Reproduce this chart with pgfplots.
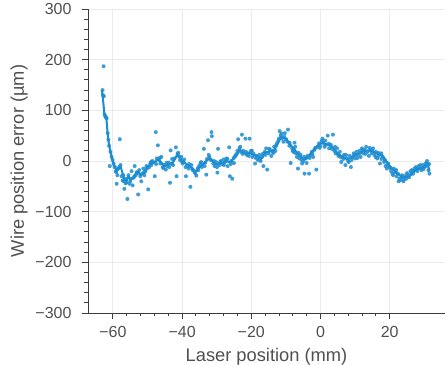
\documentclass[border=0pt]{standalone}
\usepackage{pgfplots}
\pgfplotsset{compat=1.18}
\usepackage{fontspec}
\setmainfont{Liberation Sans}
\definecolor{dotblue}{RGB}{28,140,208}
\definecolor{txtgray}{RGB}{80,80,80}
\definecolor{spinegray}{RGB}{60,60,60}
\definecolor{gridgray}{RGB}{235,235,235}
\begin{document}
\begin{tikzpicture}
\begin{axis}[
  scale only axis,
  width=357pt, height=304pt,
  xmin=-67.2, xmax=36.0, ymin=-300, ymax=300,
  axis x line*=bottom, axis y line*=left,
  axis line style={-, spinegray, line width=0.9pt},
  xtick={-60,-40,-20,0,20},
  xticklabels={−60,−40,−20,0,20},
  ytick={-300,-200,-100,0,100,200,300},
  yticklabels={−300,−200,−100,0,100,200,300},
  minor tick num=4,
  tick align=outside,
  major tick length=6pt, minor tick length=3.5pt,
  tick style={spinegray, line width=0.9pt},
  grid=major,
  major grid style={gridgray, line width=0.9pt},
  tick label style={font=\fontsize{16}{19}\selectfont, text=txtgray},
  yticklabel style={xshift=-7pt},
  xticklabel style={yshift=-4pt},
  label style={font=\fontsize{18.3}{22}\selectfont, text=txtgray},
  xlabel={Laser position (mm)},
  ylabel={Wire position error (µm)},
  xlabel style={at={(axis description cs:0.5,-0.1612)}, anchor=base},
  ylabel style={at={(axis description cs:-0.1793,0.5)}, anchor=base, rotate=0},
  clip=false,
]
\addplot[only marks, mark=*, mark size=2pt, dotblue, fill opacity=0.85, draw opacity=0] table {
x y
-63.0 140
-62.9 130
-62.7 187
-62.6 128
-62.4 92
-62.2 88
-62.0 86
-61.8 84
-61.5 55
-61.3 42
-61.1 30
-60.9 -10
-60.7 18
-60.4 8
-60.1 2
-59.8 -5
-59.5 -12
-59.2 -20
-58.9 -45
-58.7 -28
-58.4 -15
-58.0 43
-57.8 -8
-57.5 -30
-57.2 -38
-56.9 -40
-56.7 -55
-56.4 -35
-56.1 -42
-55.8 -75
-55.5 -28
-55.2 -45
-54.9 -35
-54.6 -20
-54.3 -48
-54.0 -33
-53.7 -10
-53.4 -28
-53.1 -22
-52.7 -66
-52.4 -18
-52.1 -30
-51.8 -40
-51.5 -25
-51.2 -15
-50.9 -28
-50.6 -20
-50.3 -10
-49.8 -56
-49.5 -12
-49.2 -5
-48.9 -8
-48.6 0
-48.3 -3
-47.9 -30
-47.6 57
-47.3 5
-47.0 31
-46.7 2
-46.3 -5
-46.0 8
-45.6 -12
-45.2 -8
-44.7 -17
-44.3 -10
-43.9 -3
-43.5 -43
-43.3 21
-43.0 -5
-42.6 -8
-42.2 5
-41.8 27
-41.6 -30
-41.3 15
-41.0 10
-40.6 2
-40.2 8
-39.8 -5
-39.4 3
-38.9 -30
-38.5 -10
-38.1 -15
-37.6 -51
-37.3 -8
-36.9 -18
-36.4 -22
-35.9 -29
-35.5 -15
-35.1 -10
-34.7 -5
-34.3 -12
-33.7 24
-33.3 -3
-33.0 -27
-32.5 41
-32.1 8
-31.7 2
-31.5 57
-31.4 49
-31.0 -5
-30.6 -10
-30.2 -2
-29.8 -23
-29.6 24
-29.2 -8
-28.8 0
-28.4 -6
-28.0 3
-27.6 -2
-27.2 5
-26.8 -10
-26.4 27
-26.2 -30
-25.8 0
-25.5 -35
-25.1 6
-24.7 10
-24.3 14
-23.8 43
-23.4 25
-23.0 18
-22.7 52
-22.3 20
-21.7 44
-21.3 12
-20.9 15
-20.5 44
-20.1 20
-19.7 8
-19.3 14
-18.9 -5
-18.5 10
-18.1 2
-17.7 12
-17.3 0
-16.9 8
-16.5 -10
-16.1 18
-15.7 25
-15.4 -17
-15.0 15
-14.6 22
-14.2 10
-13.8 18
-13.4 28
-13.0 20
-12.6 35
-12.2 40
-11.8 59
-11.5 50
-11.1 45
-10.7 38
-10.3 55
-9.9 43
-9.4 62
-9.0 30
-8.6 -4
-8.2 25
-7.8 18
-7.5 36
-7.1 15
-6.8 8
-6.5 -15
-6.1 5
-5.7 12
-5.3 -5
-4.9 0
-4.6 -25
-4.2 5
-3.8 10
-3.3 -25
-2.9 12
-2.5 18
-2.1 8
-1.7 22
-1.2 -17
-0.8 28
-0.4 35
0.0 30
0.4 40
0.8 36
1.2 28
1.6 32
2.1 50
2.5 25
3.0 32
3.6 52
4.0 20
4.4 15
4.8 25
5.2 10
5.6 18
6.0 -2
6.4 8
6.8 12
7.2 -8
7.6 5
8.0 0
8.4 10
8.8 -12
9.2 8
9.6 15
10.0 5
10.4 18
10.8 12
11.2 20
11.6 8
12.0 25
12.4 15
12.8 22
13.2 28
13.6 18
14.0 10
14.4 22
14.8 15
15.2 25
15.6 12
16.0 18
16.4 5
16.8 10
17.2 -5
17.6 15
18.0 8
18.4 -2
18.8 -10
19.2 -15
19.6 -5
20.0 -12
20.4 -20
20.8 -25
21.2 -15
21.6 -22
22.0 -30
22.4 -25
22.8 -35
23.2 -38
23.6 -28
24.0 -40
24.4 -30
24.8 -35
25.2 -28
25.6 -32
26.0 -20
26.4 -18
26.8 -25
27.2 -15
27.6 -12
28.0 -20
28.4 -10
28.8 -15
29.2 -18
29.6 -8
30.0 -12
30.4 -5
30.8 0
31.2 -18
31.5 -25
-59.0 -22
-58.2 -12
-57.0 -28
-56.3 -44
-55.0 -40
-53.8 -30
-52.9 -24
-51.0 -22
-50.0 -14
-49.0 -2
-47.5 -6
-46.5 6
-45.4 -14
-44.5 -4
-43.7 -12
-42.9 4
-41.1 16
-40.0 -2
-39.0 -12
-38.0 -6
-37.0 -16
-36.2 -24
-35.3 -18
-34.5 -2
-33.5 -10
-32.8 4
-32.3 12
-30.8 0
-29.9 -12
-29.0 -2
-27.9 -8
-26.9 4
-25.9 -6
-25.0 -4
-24.0 20
-23.2 28
-22.5 14
-21.5 18
-20.7 10
-19.8 20
-18.7 6
-17.5 4
-16.7 14
-15.9 12
-14.8 24
-13.6 16
-12.9 30
-12.0 44
-11.3 54
-10.5 48
-9.6 38
-8.9 36
-8.0 20
-7.3 28
-6.3 16
-5.5 2
-4.7 8
-4.0 -4
-3.1 6
-2.3 14
-1.5 26
-0.2 26
0.6 44
1.4 40
2.4 34
3.3 24
4.2 28
5.0 14
5.8 8
6.6 4
7.4 12
8.2 -2
9.0 2
9.9 12
10.7 6
11.5 16
12.2 22
13.0 14
14.2 26
15.0 20
15.9 8
16.8 16
17.6 4
18.6 2
19.4 -8
20.3 -14
21.0 -28
21.9 -18
22.6 -40
23.4 -32
24.2 -36
25.0 -24
26.2 -26
27.0 -20
27.8 -16
28.9 -8
29.8 -16
30.6 -10
31.4 -6
};
\addplot[dotblue, line width=2pt, no marks, line join=round] table {
x y
-63.2 140
-63.0 130
-62.7 110
-62.5 95
-62.2 88
-61.9 86
-61.6 60
-61.3 40
-61.0 28
-60.6 15
-60.2 5
-59.8 -8
-59.4 -10
-58.9 -20
-58.4 -15
-57.8 -10
-57.2 -25
-56.6 -38
-56.1 -40
-55.5 -30
-54.9 -38
-54.1 -33
-53.4 -25
-52.7 -20
-52.0 -28
-51.4 -25
-50.8 -23
-50.1 -12
-49.4 -8
-48.8 -4
-47.9 -2
-46.9 4
-46.0 -3
-45.0 -10
-44.1 -6
-43.1 -7
-42.2 2
-41.4 13
-40.6 5
-39.7 0
-38.5 -8
-37.3 -13
-36.6 -18
-35.9 -20
-35.0 -12
-34.0 -7
-33.0 0
-32.0 6
-31.0 -2
-30.1 -7
-29.2 -4
-28.2 -4
-27.2 0
-26.2 -3
-25.3 3
-24.3 10
-23.3 23
-22.9 19
-21.7 14
-20.5 16
-19.2 12
-18.0 8
-17.0 5
-16.1 17
-15.0 18
-14.1 20
-13.2 23
-12.3 35
-11.3 48
-10.5 45
-9.9 43
-8.8 33
-7.5 23
-6.5 13
-5.5 7
-4.6 3
-3.6 8
-2.7 16
-1.6 25
-0.6 32
0.2 36
1.2 34
2.2 32
3.1 29
4.1 22
5.0 15
6.0 10
7.0 6
8.0 4
8.9 6
9.8 10
10.8 14
12.3 19
13.6 21
15.1 19
16.5 14
18.0 10
19.0 0
20.0 -10
21.0 -17
21.9 -23
22.9 -28
23.8 -33
24.7 -31
25.7 -30
26.6 -22
27.6 -17
28.6 -15
29.6 -13
30.3 -8
31.0 -4
31.5 -20
};
\end{axis}
\pgfresetboundingbox
\path ([xshift=-88pt,yshift=-52pt]current axis.south west) rectangle ([xshift=2pt,yshift=9pt]current axis.north east);
\end{tikzpicture}
\end{document}
